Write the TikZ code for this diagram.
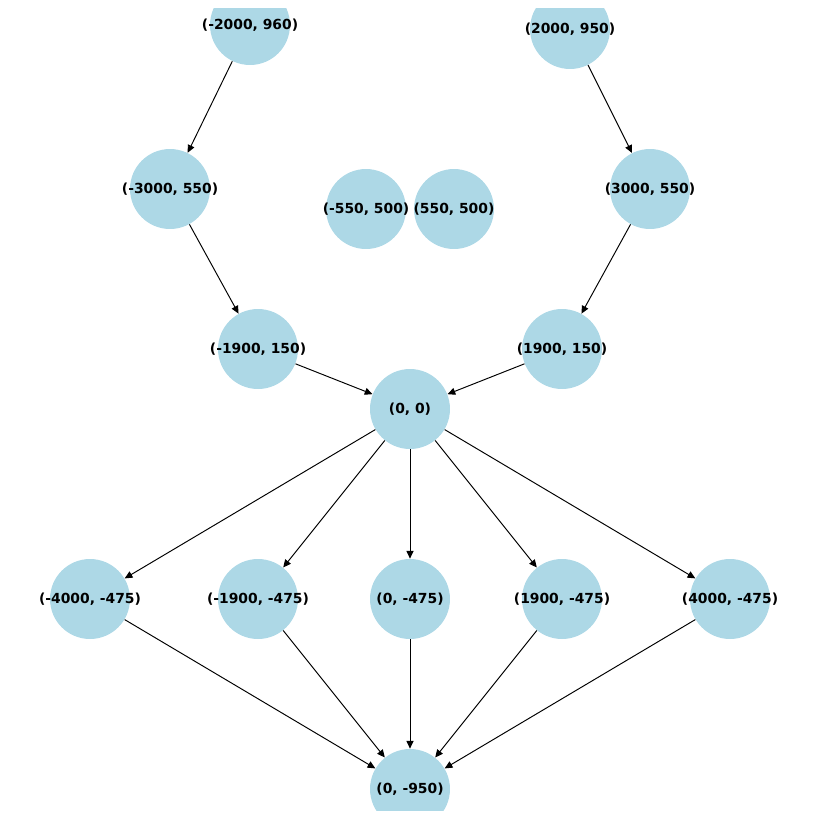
\documentclass[tikz,border=0pt]{standalone}
\usepackage{fontspec}
\setmainfont{DejaVu Sans}
\usetikzlibrary{arrows.meta}
\definecolor{nodeblue}{HTML}{ADD8E6}

\begin{document}
\begin{tikzpicture}[
  x=0.02cm, y=-0.02cm,
  font=\fontsize{7.9}{9}\selectfont\bfseries,
  pt/.style={circle, fill=nodeblue, minimum size=1.6cm, inner sep=0pt},
  arr/.style={-{Triangle[length=4.4pt, width=4pt]}, line width=0.55pt, draw=black},
]
\useasboundingbox (0,0) rectangle (819,819);
\begin{scope}
\clip (8,8) rectangle (811,810);
% upper branches
\node[pt, label=center:{(-2000, 960)}] (lt)  at (250, 25)  {};
\node[pt, label=center:{(2000, 950)}]  (rt)  at (570, 29)  {};
\node[pt, label=center:{(-3000, 550)}] (lm)  at (170, 189) {};
\node[pt, label=center:{(3000, 550)}]  (rm)  at (650, 189) {};
\node[pt, label=center:{(-550, 500)}]  (cl)  at (366, 209) {};
\node[pt, label=center:{(550, 500)}]   (cr)  at (454, 209) {};
\node[pt, label=center:{(-1900, 150)}] (lb)  at (258, 349) {};
\node[pt, label=center:{(1900, 150)}]  (rb)  at (562, 349) {};
% centre
\node[pt, label=center:{(0, 0)}]       (o)   at (410, 409) {};
% lower row
\node[pt, label=center:{(-4000, -475)}] (d1) at (90, 599)  {};
\node[pt, label=center:{(-1900, -475)}] (d2) at (258, 599) {};
\node[pt, label=center:{(0, -475)}]     (d3) at (410, 599) {};
\node[pt, label=center:{(1900, -475)}]  (d4) at (562, 599) {};
\node[pt, label=center:{(4000, -475)}]  (d5) at (730, 599) {};
\node[pt, label=center:{(0, -950)}]     (bot) at (410, 789) {};

\draw[arr] (lt) -- (lm);
\draw[arr] (lm) -- (lb);
\draw[arr] (lb) -- (o);
\draw[arr] (rt) -- (rm);
\draw[arr] (rm) -- (rb);
\draw[arr] (rb) -- (o);
\foreach \d in {d1, d2, d3, d4, d5} {
  \draw[arr] (o) -- (\d);
  \draw[arr] (\d) -- (bot);
}
\end{scope}
\end{tikzpicture}
\end{document}
